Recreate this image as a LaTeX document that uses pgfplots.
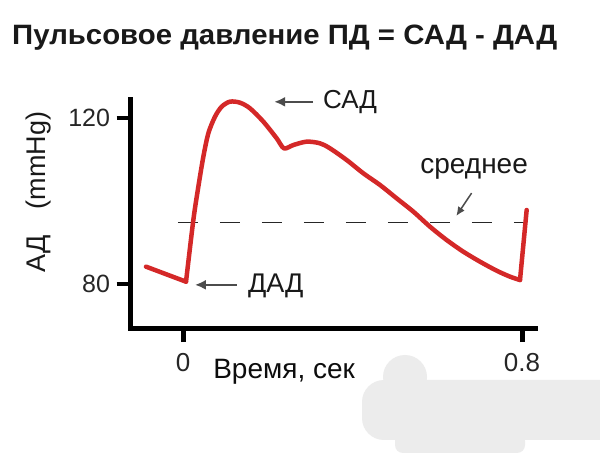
\documentclass[border=0pt]{standalone}
\usepackage{pgfplots}
\pgfplotsset{compat=1.18}
\usepackage{fontspec}
\setmainfont{Liberation Sans}
\usetikzlibrary{arrows.meta}
\definecolor{curvered}{RGB}{212,40,40}
\definecolor{blob}{RGB}{236,236,236}
\begin{document}
\begin{tikzpicture}
\path[use as bounding box] (0bp,0bp) rectangle (600bp,453bp);
\fill[white] (0bp,0bp) rectangle (600bp,453bp);
% light grey patch at bottom right
\fill[blob, rounded corners=22bp] (362bp,13bp) rectangle (640bp,73bp);
\fill[blob] (405bp,76bp) circle (22bp);
\fill[blob, rounded corners=8bp] (395bp,0bp) rectangle (525bp,20bp);
% title
\node[anchor=base west, inner sep=0pt, text=black!90] at (12bp,408bp)
  {\resizebox{545bp}{\height}{\fontsize{28bp}{30bp}\selectfont\bfseries Пульсовое давление ПД = САД - ДАД}};
% y label
\node[rotate=90, anchor=base, inner sep=0pt, text=black!90] at (45bp,261bp)
  {\fontsize{27bp}{29bp}\selectfont АД\hspace{26bp}(mmHg)};
\begin{axis}[
  at={(130bp,124.3bp)}, anchor=south west,
  clip=false,
  scale only axis, width=405bp, height=228.7bp,
  xmin=-0.1251, xmax=0.8307, ymin=69.23, ymax=124.34,
  axis x line*=bottom, axis y line*=left,
  axis line style={line width=5bp, black, line cap=rect},
  xtick={0,0.8}, xticklabels={0,0.8},
  ytick={80,120}, yticklabels={80,120},
  xtick pos=bottom, ytick pos=left,
  xtick align=outside, ytick align=outside,
  major tick length=13.5bp,
  every tick/.style={black, line width=4bp},
  tick label style={text=black!85},
  xticklabel style={font=\fontsize{26bp}{28bp}\selectfont, yshift=-8bp},
  yticklabel style={font=\fontsize{25bp}{27bp}\selectfont, xshift=-3bp},
  /pgf/number format/assume math mode=true,
]
% mean pressure (dashed)
\addplot[black!85, line width=1.6bp, dash pattern=on 20bp off 22bp] coordinates {(-0.012,94.8) (0.807,94.8)};
% pressure curve
\addplot[curvered, line width=4.5bp, line cap=round, line join=round] coordinates {(-0.0873,84.18) (0.0071,80.56)};
\addplot[curvered, line width=4.5bp, line cap=round, line join=round, smooth, tension=0.5] coordinates {
(0.0071,80.56) (0.0244,95.42) (0.0362,103.45) (0.048,110.68) (0.0598,116.31)
(0.0755,120.32) (0.0913,122.73) (0.1109,123.94) (0.1345,123.69) (0.1581,122.33)
(0.1896,119.12) (0.2211,115.10) (0.2383,112.69) (0.2604,113.49) (0.2918,114.30)
(0.3233,113.90) (0.3469,112.69) (0.3862,109.88) (0.4256,106.67) (0.4649,103.86)
(0.5042,100.64) (0.5436,97.43) (0.5829,93.81) (0.6222,90.60) (0.6615,87.79)
(0.7009,85.38) (0.7402,83.21) (0.7717,81.77) (0.7953,80.96)};
\addplot[curvered, line width=4.5bp, line cap=round, line join=round] coordinates {(0.7953,80.96) (0.811,97.83)};
% tick marks (axis decoration)
\draw[black, line width=4bp] (axis cs:-0.1251,80) -- (axis cs:-0.1558,80);
\draw[black, line width=4bp] (axis cs:-0.1251,120) -- (axis cs:-0.1558,120);
\draw[black, line width=5bp] (axis cs:0,69.23) -- (axis cs:0,65.98);
\draw[black, line width=5bp] (axis cs:0.8,69.23) -- (axis cs:0.8,65.98);
% annotations
\draw[gray!60!black, line width=2.5bp, -{Latex[length=11bp,width=10bp]}] (axis cs:0.307,123.9) -- (axis cs:0.215,123.9);
\node[anchor=west, inner sep=0pt, text=black!90, font=\fontsize{26bp}{28bp}\selectfont] at (axis cs:0.330,123.9) {САД};
\draw[gray!60!black, line width=2.5bp, -{Latex[length=11bp,width=10bp]}] (axis cs:0.127,79.8) -- (axis cs:0.028,79.8);
\node[anchor=west, inner sep=0pt, text=black!90, font=\fontsize{27bp}{29bp}\selectfont] at (axis cs:0.153,79.6) {ДАД};
\draw[gray!60!black, line width=1.5bp, -{Latex[length=9bp,width=8bp]}] (axis cs:0.681,101.9) -- (axis cs:0.645,96.4);
\node[inner sep=0pt, text=black!90, font=\fontsize{28bp}{30bp}\selectfont] at (axis cs:0.687,107.8) {среднее};
\node[anchor=west, inner sep=0pt, text=black!95, font=\fontsize{28bp}{30bp}\selectfont] at (axis cs:0.071,58.8) {Время, сек};
\end{axis}
\end{tikzpicture}
\end{document}
